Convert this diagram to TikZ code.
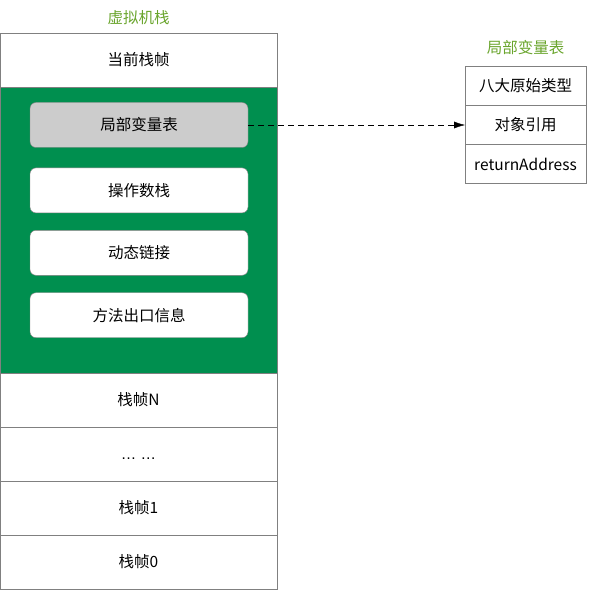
\documentclass[tikz,border=0pt]{standalone}
\usepackage{fontspec}
\setmainfont{Noto Sans CJK SC}
\newfontfamily\dotfont{Liberation Sans}
\usetikzlibrary{arrows.meta,positioning}
\definecolor{Leaf}{HTML}{6AA52D}
\definecolor{Frame}{HTML}{008F4F}
\definecolor{Edge}{HTML}{808080}
\definecolor{Slot}{HTML}{CCCCCC}

\begin{document}
\begin{tikzpicture}[x=1pt,y=-1pt,node distance=0pt,font=\fontsize{15.5}{18}\selectfont,
row/.style={draw=Edge,fill=white,minimum width=277pt,minimum height=54pt,inner sep=0pt,outer sep=0pt},
slot/.style={draw=Edge,rounded corners=6pt,fill=white,minimum width=218pt,minimum height=45pt,inner sep=0pt},
cell/.style={draw=Edge,fill=white,minimum width=121pt,minimum height=39pt,inner sep=0pt,outer sep=0pt},
heading/.style={text=Leaf},
arrow/.style={-{Latex[length=11pt,width=7pt]},dashed,dash pattern=on 6pt off 4pt,draw=black}]
\useasboundingbox (0,0) rectangle (607,604);
\node[heading](vmstack) at (138.5,18){虚拟机栈};
\node[row](current) at (138.5,60){当前栈帧};
\node[row,fill=Frame,minimum height=286pt,below=of current](active){};
\node[row,below=of active](frameN){栈帧N};
\node[row,below=of frameN](dots){\vphantom{栈}{\dotfont … …}};
\node[row,below=of dots](frame1){栈帧1};
\node[row,below=of frame1](frame0){栈帧0};
\node[slot,fill=Slot](locals) at (139,125){局部变量表};
\node[slot,below=20pt of locals](operand){操作数栈};
\node[slot,below=17pt of operand](linking){动态链接};
\node[slot,below=17pt of linking](exit){方法出口信息};
\node[heading](tabletitle) at (525.5,48){局部变量表};
\node[cell](primitive) at (525.5,86){八大原始类型};
\node[cell,below=of primitive](reference){对象引用};
\node[cell,below=of reference](retaddr){returnAddress};
\draw[arrow](locals.east) -- (locals.east -| primitive.west);
\end{tikzpicture}
\end{document}
